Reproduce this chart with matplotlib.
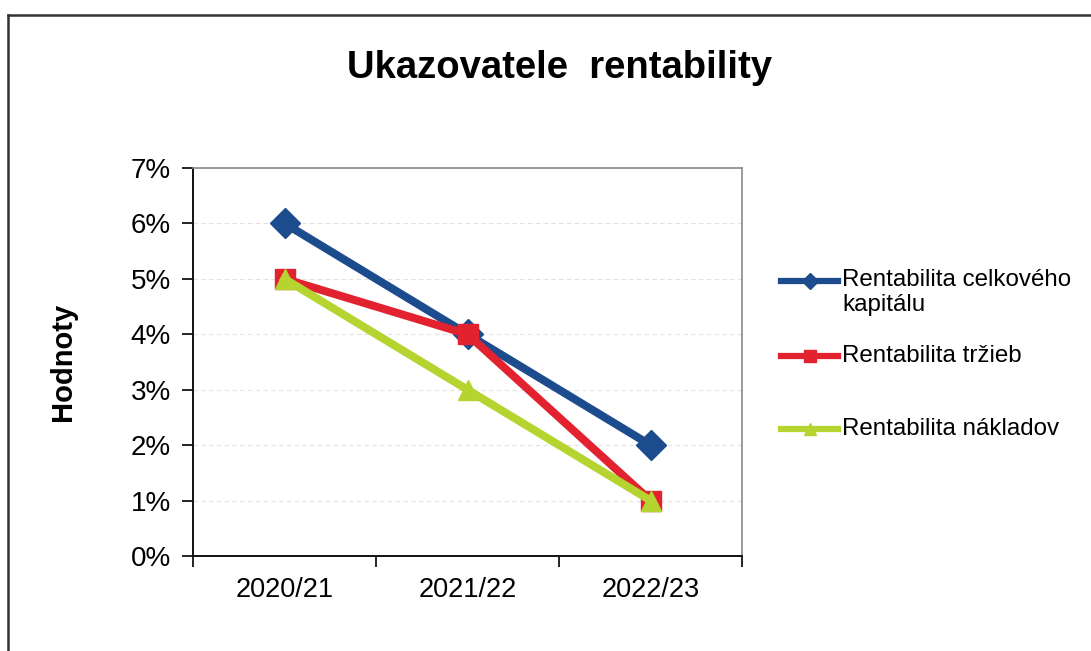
# ---------- Import Libraries ---------- #
import matplotlib
matplotlib.use("Agg")
import matplotlib.pyplot as plt
from matplotlib.lines import Line2D
from matplotlib.ticker import FuncFormatter, FixedLocator

# ---------- Data ---------- #
years = ["2020/21", "2021/22", "2022/23"]
series_names = ["Rentabilita celkového\nkapitálu", "Rentabilita tržieb", "Rentabilita nákladov"]
celk_kapital = [6, 4, 2]
trzby = [5, 4, 1]
naklady = [5, 3, 1]
y_ticks = [0, 1, 2, 3, 4, 5, 6, 7]

colors = ["#1c4b8e", "#e2232f", "#b6d430"]
markers = ["D", "s", "^"]

plt.rcParams['font.family'] = ['Liberation Sans', 'DejaVu Sans']

fig = plt.figure(figsize=(10.91, 6.51), dpi=100)
ax = fig.add_axes([0.1769, 0.1459, 0.5033, 0.5961])

# ---------- Lines ---------- #
x = list(range(len(years)))
for vals, c, m in zip([celk_kapital, trzby, naklady], colors, markers):
    ax.plot(x, vals, color=c, lw=5.8, marker=m, ms=15, mec=c, mfc=c, zorder=3,
            solid_joinstyle="miter")

# ---------- Axes ---------- #
ax.set_xlim(-0.5, 2.5)
ax.set_ylim(0, 7)
ax.set_yticks(y_ticks)
ax.yaxis.set_major_formatter(FuncFormatter(lambda v, p: "%d%%" % v))
ax.set_xticks(x)
ax.set_xticklabels(years)
ax.xaxis.set_minor_locator(FixedLocator([-0.5, 0.5, 1.5, 2.5]))
ax.tick_params(axis="x", which="major", length=0, pad=15, labelsize=19.5)
ax.tick_params(axis="x", which="minor", length=8, width=1.2, direction="out")
ax.tick_params(axis="y", length=8, width=1.2, direction="out", pad=8, labelsize=20)

ax.grid(axis="y", color="#e2e2e2", lw=0.8, ls=(0, (4, 3)))
ax.set_axisbelow(True)
for s in ["top", "right"]:
    ax.spines[s].set_color("#8a8a8a")
    ax.spines[s].set_linewidth(1.2)
for s in ["left", "bottom"]:
    ax.spines[s].set_color("#111111")
    ax.spines[s].set_linewidth(1.4)

ax.set_ylabel("Hodnoty", fontsize=21, fontweight="bold")
ax.yaxis.set_label_coords(-0.212, 0.5)

fig.text(0.513, 0.895, "Ukazovatele  rentability", ha="center", va="center",
         fontsize=27.5, fontweight="bold")

# ---------- Legend (drawn by hand) ---------- #
W, H = 1091.0, 651.0
leg_y = [281, 356, 429]
for name, c, m, yy in zip(series_names, colors, markers, leg_y):
    fy = 1 - yy / H
    fig.add_artist(Line2D([781 / W, 838 / W], [fy, fy], color=c, lw=4.5,
                          transform=fig.transFigure))
    fig.add_artist(Line2D([809.5 / W], [fy], color=c, marker=m, ms=8, mec=c, mfc=c,
                          transform=fig.transFigure))
    if "\n" in name:
        fig.text(842 / W, fy + 12 / H, name, ha="left", va="top", fontsize=17.4,
                 linespacing=1.2)
    else:
        fig.text(842 / W, fy, name, ha="left", va="center", fontsize=17.4)

# ---------- Outer frame (left and top visible) ---------- #
fig.add_artist(Line2D([8 / W, 8 / W], [0, 1 - 15 / H], color="#333333", lw=1.8,
                      transform=fig.transFigure))
fig.add_artist(Line2D([8 / W, 1], [1 - 15 / H, 1 - 15 / H], color="#333333", lw=1.8,
                      transform=fig.transFigure))

fig.savefig("out.png", dpi=100)
